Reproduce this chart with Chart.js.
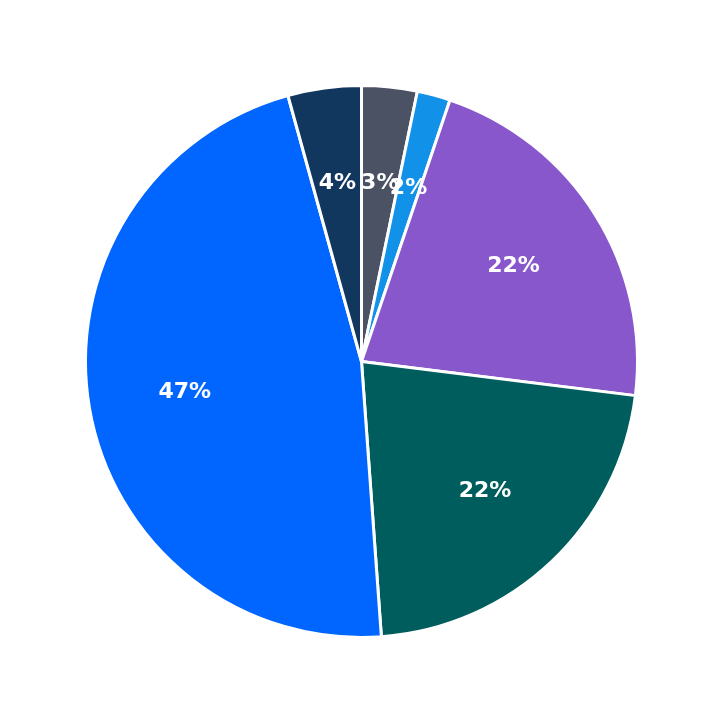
<!DOCTYPE html>
<html><head><meta charset="utf-8">
<script src="https://cdn.jsdelivr.net/npm/chart.js@4"></script>
<style>html,body{margin:0;padding:0;background:#fff}#w{width:723px;height:723px}</style>
</head><body><div id="w"><canvas id="c"></canvas></div>
<script>
const categories = ["A","B","C","D","E","F"];
const values = [3.25, 1.95, 21.8, 21.9, 46.9, 4.3];
const colors = ["#4a5263","#1192e8","#8857cc","#005d5d","#0066ff","#12375f"];
const labelPlugin = {
  id:'lbl',
  afterDatasetsDraw(chart){
    const ctx = chart.ctx;
    const total = values.reduce((a,b)=>a+b,0);
    chart.getDatasetMeta(0).data.forEach((arc,i)=>{
      const p = arc.getProps(['x','y','startAngle','endAngle','outerRadius'],true);
      const m = (p.startAngle+p.endAngle)/2, r = p.outerRadius*0.65;
      ctx.save();
      ctx.fillStyle='#fff'; ctx.font='bold 22px "DejaVu Sans"';
      ctx.textAlign='center'; ctx.textBaseline='middle';
      ctx.fillText(Math.round(values[i]/total*100)+'%', p.x+Math.cos(m)*r, p.y+Math.sin(m)*r);
      ctx.restore();
    });
  }
};
new Chart(document.getElementById('c'),{
  type:'pie',
  data:{labels:categories,datasets:[{data:values,backgroundColor:colors,borderColor:'#fff',borderWidth:3}]},
  options:{responsive:true,maintainAspectRatio:false,animation:false,
    layout:{padding:84},
    plugins:{legend:{display:false},tooltip:{enabled:false}}},
  plugins:[labelPlugin]
});
</script></body></html>
